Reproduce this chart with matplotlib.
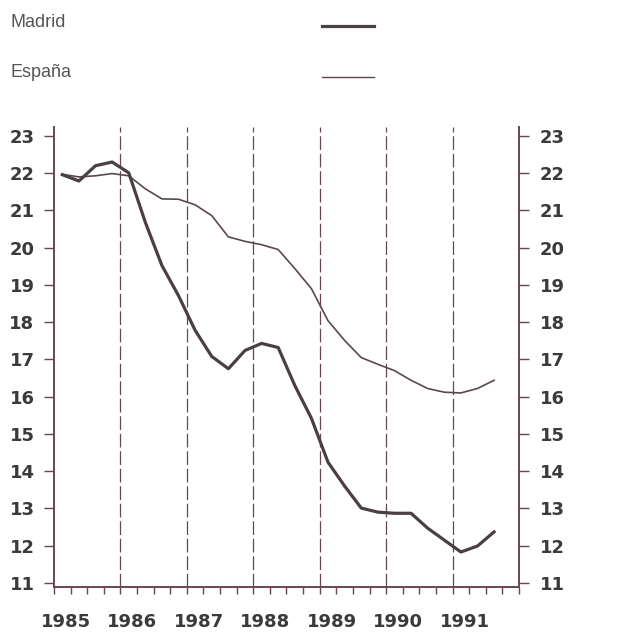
import matplotlib

matplotlib.use("Agg")
import matplotlib.pyplot as plt  # noqa: E402
import matplotlib.transforms as mtransforms  # noqa: E402
import numpy as np  # noqa: E402

# quarterly series, 1985-T1 .. 1991-T3
madrid = [21.96, 21.79, 22.20, 22.30, 22.01, 20.68, 19.52, 18.71, 17.78,
          17.08, 16.75, 17.24, 17.43, 17.32, 16.30, 15.42, 14.24, 13.60,
          13.01, 12.90, 12.87, 12.87, 12.47, 12.15, 11.83, 11.99, 12.37]
espana = [21.97, 21.90, 21.93, 21.99, 21.93, 21.58, 21.31, 21.30, 21.15,
          20.86, 20.29, 20.17, 20.08, 19.95, 19.44, 18.90, 18.04, 17.51,
          17.05, 16.87, 16.70, 16.44, 16.22, 16.12, 16.10, 16.22, 16.44]
years = [1985, 1986, 1987, 1988, 1989, 1990, 1991]
yticks = list(range(11, 24))

t = 1985 + (np.arange(len(madrid)) + 0.5) / 4

axis_col = "#6a4650"
mad_col = "#4a3f42"
esp_col = "#5a484c"
lbl_col = "#3a3a3a"
tick_font = "DejaVu Sans"
leg_font = "Liberation Sans"

fig = plt.figure(figsize=(6.39, 6.34), dpi=100)
ax = fig.add_axes([0.0845, 0.0741, 0.7277, 0.7256])

ax.set_xlim(1985, 1992)
ax.set_ylim(10.89, 23.24)

for yr in years[1:]:
    ax.axvline(yr, color=axis_col, lw=0.9, ls=(0, (11, 3)), zorder=1)

ax.plot(t, espana, color=esp_col, lw=1.2, zorder=2)
ax.plot(t, madrid, color=mad_col, lw=2.3, zorder=3)

ax.spines["top"].set_visible(False)
for s in ("left", "right", "bottom"):
    ax.spines[s].set_color(axis_col)
    ax.spines[s].set_linewidth(1.4)

# left y axis
ax.set_yticks(yticks)
ax.tick_params(axis="y", length=7, width=1, color=axis_col, pad=7,
               labelsize=13, labelcolor=lbl_col)
for lab in ax.get_yticklabels():
    lab.set_fontweight("bold")
    lab.set_fontfamily(tick_font)

# right y axis
ax2 = ax.twinx()
ax2.set_ylim(ax.get_ylim())
ax2.set_yticks(yticks)
ax2.tick_params(axis="y", length=7, width=1, color=axis_col, pad=8,
                labelsize=13, labelcolor=lbl_col)
for lab in ax2.get_yticklabels():
    lab.set_fontweight("bold")
    lab.set_fontfamily(tick_font)
for s in ax2.spines.values():
    s.set_visible(False)

# x axis: years with quarterly minor ticks
ax.set_xticks(years)
ax.set_xticks(np.arange(1985, 1992.01, 0.25), minor=True)
ax.set_xticklabels([str(y) for y in years], fontweight="bold",
                   fontfamily=tick_font, fontsize=13, color=lbl_col)
ax.tick_params(axis="x", which="both", direction="out", length=5, width=1,
               color=axis_col, pad=14)
shift = mtransforms.ScaledTranslation(12 / 100, 0, fig.dpi_scale_trans)
for lab in ax.get_xticklabels():
    lab.set_transform(lab.get_transform() + shift)

# legend, drawn as in the original figure
fig.text(10 / 639, 1 - 27 / 634, "Madrid", fontsize=13, color="#555555",
         family=leg_font, va="baseline")
fig.text(10 / 639, 1 - 77 / 634, "España", fontsize=13, color="#555555",
         family=leg_font, va="baseline")
fig.add_artist(plt.Line2D([322 / 639, 374 / 639], [1 - 26 / 634] * 2,
                          color=mad_col, lw=2.3))
fig.add_artist(plt.Line2D([322 / 639, 374 / 639], [1 - 77 / 634] * 2,
                          color=esp_col, lw=1.0))

fig.savefig("out.png", dpi=100)
